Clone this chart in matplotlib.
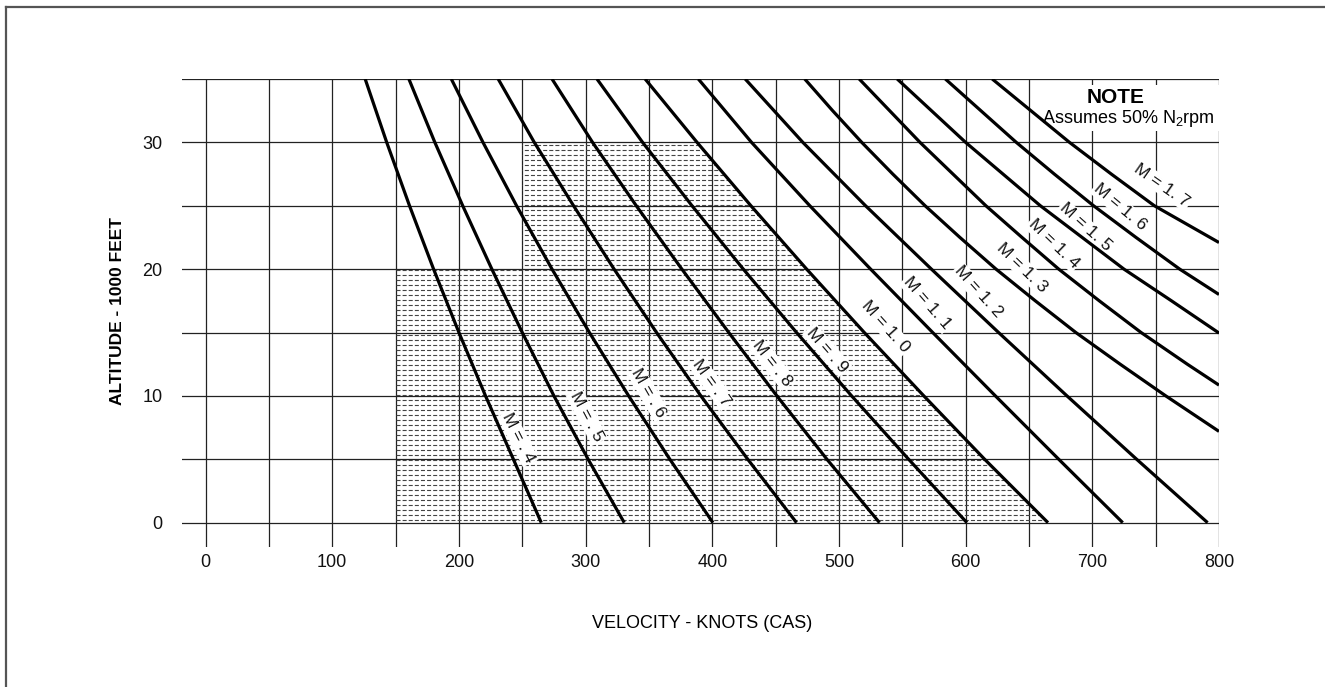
import matplotlib
matplotlib.use('Agg')
import matplotlib.pyplot as plt
from matplotlib.patches import Polygon, Rectangle
from matplotlib.lines import Line2D
import numpy as np

plt.rcParams['font.family'] = ['Liberation Sans', 'DejaVu Sans']
plt.rcParams['lines.scale_dashes'] = False
plt.rcParams['mathtext.fontset'] = 'custom'
plt.rcParams['mathtext.rm'] = 'Liberation Sans'

# ---------------- data ----------------
alt_std = [0, 5, 10, 15, 20, 25, 30, 35]          # 1000 ft
cas_m04 = [265, 243, 221, 200, 180, 161, 143, 126]
cas_m05 = [330.5, 302, 275, 250, 226, 203, 181, 160.5]
cas_m06 = [400.5, 366.5, 334, 303, 273.5, 245.5, 219, 194]
cas_m07 = [466.5, 428, 391, 356, 322.5, 290.5, 259.5, 231]
cas_m08 = [532, 490.5, 451, 413, 376, 340, 305.5, 273.5]
cas_m09 = [601, 555, 510, 466.5, 424.5, 384, 345, 309]
cas_m10 = [665, 615, 567, 520, 474.5, 430.5, 388, 347]
cas_m11 = [724, 673.5, 623.5, 574, 525, 477, 431, 389]
cas_m12 = [791, 735, 680, 626, 573, 521, 471.5, 426]
alt_m13 = [7.2, 10, 12.5, 15, 17.5, 20, 22.5, 25, 27.5, 30, 32.5, 35]
cas_m13 = [800, 758, 722, 687, 655, 624, 595.5, 568, 542.5, 518, 495, 473]
alt_m14 = [10.85, 12.5, 15, 17.5, 20, 22.5, 25, 27.5, 30, 32.5, 35]
cas_m14 = [800, 775, 738.5, 705.5, 673.5, 644.5, 616, 590, 564, 540, 516]
alt_m15 = [14.96, 17.5, 20, 22.5, 25, 27.5, 30, 32.5, 35]
cas_m15 = [800, 762.5, 725, 692, 659, 629.5, 600, 573, 546]
alt_m16 = [18.0, 20, 22.5, 25, 27.5, 30, 32.5, 35]
cas_m16 = [800, 769, 734.5, 701, 670, 640, 612, 584]
alt_m17 = [22.1, 25, 27.5, 30, 32.5, 35]
cas_m17 = [800, 749, 715, 682, 651.5, 621]

mach_labels = ['M = . 4', 'M = . 5', 'M = . 6', 'M = . 7', 'M = . 8', 'M = . 9',
               'M = 1. 0', 'M = 1. 1', 'M = 1. 2', 'M = 1. 3', 'M = 1. 4',
               'M = 1. 5', 'M = 1. 6', 'M = 1. 7']

x_ticks = [0, 100, 200, 300, 400, 500, 600, 700, 800]
y_ticks = [0, 10, 20, 30]

curves = [
    (cas_m04, alt_std), (cas_m05, alt_std), (cas_m06, alt_std), (cas_m07, alt_std),
    (cas_m08, alt_std), (cas_m09, alt_std), (cas_m10, alt_std), (cas_m11, alt_std),
    (cas_m12, alt_std), (cas_m13, alt_m13), (cas_m14, alt_m14), (cas_m15, alt_m15),
    (cas_m16, alt_m16), (cas_m17, alt_m17),
]

# label placement (annotation positions: x, y, screen angle)
label_pos = [
    (246.7, 6.68, -63), (301.0, 8.36, -62), (349.6, 10.2, -60), (399.5, 11.0, -54),
    (447.1, 12.57, -52), (490.5, 13.62, -49), (536.5, 15.46, -48), (569.4, 17.3, -49),
    (610.2, 18.2, -48), (644.7, 20.1, -44), (669.4, 22.0, -44), (694.4, 23.3, -42),
    (722.0, 24.9, -40), (755.0, 26.6, -35),
]

# ---------------- figure ----------------
W, H = 1325, 687
fig = plt.figure(figsize=(W / 100, H / 100), dpi=100)
ax = fig.add_axes([182 / W, 1 - 547 / H, (1219 - 182) / W, (547 - 79) / H])
ax.set_xlim(-18.6, 800)
ax.set_ylim(-1.92, 35)
for s in ax.spines.values():
    s.set_visible(False)

grid_c = '#222222'
for xv in range(0, 801, 50):
    ax.axvline(xv, color=grid_c, lw=0.9, zorder=1)
for yv in range(0, 36, 5):
    ax.axhline(yv, color=grid_c, lw=0.9, zorder=1)

ax.set_xticks(x_ticks)
ax.set_xticklabels([str(v) for v in x_ticks])
ax.set_yticks(y_ticks)
ax.set_yticklabels([str(v) for v in y_ticks])
ax.tick_params(length=0, labelsize=13, colors='#111111')
ax.tick_params(axis='x', pad=5)
ax.tick_params(axis='y', pad=14)

# shaded region (dashed horizontal fill) bounded by M = 1.0 line
m10_part = [(c, a) for c, a in zip(cas_m10, alt_std) if a <= 30]
verts = [(150, 0), (150, 20), (250, 20), (250, 30)] + m10_part[::-1]
poly = Polygon(verts, closed=True, facecolor='white', edgecolor='none', zorder=0.5)
ax.add_patch(poly)
ys = np.arange(0.2, 30, 5 / 12.68)
lc = ax.hlines(ys, 150, 680, colors='#444444', linewidth=0.8,
               linestyles=[(0, (2.9, 1.5))], zorder=1.5)
lc.set_clip_path(poly)

# Mach lines
for cas, alt in curves:
    ax.plot(cas, alt, color='black', lw=2.3, zorder=3, solid_capstyle='butt',
            solid_joinstyle='round')

# Mach labels
for lab, (lx, ly, rot) in zip(mach_labels, label_pos):
    ax.text(lx, ly, lab, rotation=rot, rotation_mode='anchor', ha='center', va='center',
            fontsize=12.5, color='#111111', zorder=2.5,
            bbox=dict(facecolor='white', edgecolor='none', pad=1.0))

# note
ax.add_patch(Rectangle((660, 30.9), 141, 3.6, facecolor='white', edgecolor='none',
                       zorder=2.2, clip_on=False))
ax.text(718, 33.55, 'NOTE', ha='center', va='center', fontsize=15, fontweight='bold',
        zorder=2.6)
ax.text(796.5, 31.9, r'Assumes 50% N$_{\mathregular{2}}$rpm', ha='right', va='center',
        fontsize=13, zorder=2.6)

# axis titles
fig.text(117 / W, 1 - 311 / H, 'ALTITUDE - 1000 FEET', rotation=90, ha='center',
         va='center', fontsize=12.5, fontweight='bold')
fig.text(702 / W, 1 - 623 / H, 'VELOCITY - KNOTS (CAS)', ha='center', va='center',
         fontsize=13)

# page frame
fig.add_artist(Line2D([6 / W, 6 / W], [0, 1 - 6.5 / H], transform=fig.transFigure,
                      color='#555555', lw=1.6))
fig.add_artist(Line2D([6 / W, 1], [1 - 6.5 / H, 1 - 6.5 / H], transform=fig.transFigure,
                      color='#555555', lw=1.6))

fig.savefig('out.png', dpi=100)
